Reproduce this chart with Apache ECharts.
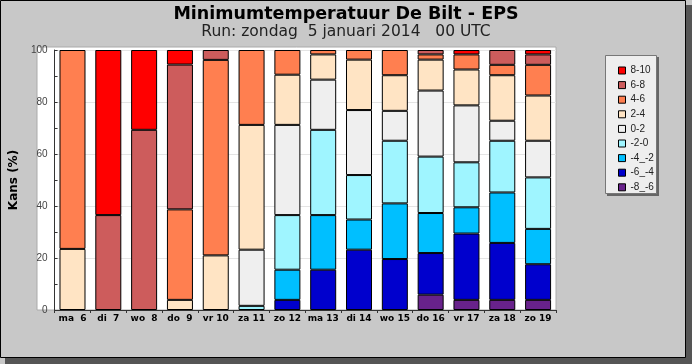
<!DOCTYPE html>
<html>
<head>
<meta charset="utf-8">
<script src="https://cdn.jsdelivr.net/npm/echarts@6/dist/echarts.min.js"></script>
<style>html,body{margin:0;padding:0;background:#c8c8c8;}#c{width:692px;height:364px;}</style>
</head>
<body>
<div id="c"></div>
<script>
var categories = ['ma  6','di  7','wo  8','do  9','vr 10','za 11','zo 12','ma 13','di 14','wo 15','do 16','vr 17','za 18','zo 19'];
var yTicks = [0, 20, 40, 60, 80, 100];
var seriesNames = ['-8_-6', '-6_-4', '-4_-2', '-2-0', '0-2', '2-4', '4-6', '6-8', '8-10'];
var seriesColors = ['#68228b', '#0000cd', '#00bfff', '#9ff5ff', '#efefef', '#ffe4c4', '#ff7f50', '#cd5c5c', '#ff0000'];
var m8_m6 = [0, 0, 0, 0, 0, 0, 0, 0, 0, 0, 5.9, 3.9, 3.9, 3.9];
var m6_m4 = [0, 0, 0, 0, 0, 0, 3.9, 15.5, 23.2, 19.6, 16.0, 25.5, 21.9, 13.7];
var m4_m2 = [0, 0, 0, 0, 0, 0, 11.6, 21.0, 11.6, 21.4, 15.4, 10.1, 19.4, 13.6];
var m2_0  = [0, 0, 0, 0, 0, 1.6, 21.0, 32.8, 17.1, 24.1, 21.7, 17.3, 19.9, 19.8];
var p0_2  = [0, 0, 0, 0, 0, 21.6, 34.7, 19.3, 25.0, 11.5, 25.4, 21.9, 7.7, 14.1];
var p2_4  = [23.5, 0, 0, 3.9, 21.0, 48.0, 19.3, 9.7, 19.4, 13.7, 11.9, 13.8, 17.5, 17.4];
var p4_6  = [76.5, 0, 0, 34.8, 75.2, 28.8, 9.5, 1.7, 3.7, 9.7, 2.0, 5.8, 4.0, 11.8];
var p6_8  = [0, 36.5, 69.3, 55.7, 3.8, 0, 0, 0, 0, 0, 1.7, 0, 5.7, 4.0];
var p8_10 = [0, 63.5, 30.7, 5.6, 0, 0, 0, 0, 0, 0, 0, 1.7, 0, 1.7];
var seriesValues = [m8_m6, m6_m4, m4_m2, m2_0, p0_2, p2_4, p4_6, p6_8, p8_10];

var chart = echarts.init(document.getElementById('c'), null, {renderer: 'canvas'});
var series = seriesNames.map(function (n, i) {
  return {
    name: n, type: 'bar', stack: 'all', barWidth: 26,
    itemStyle: {color: seriesColors[i], borderColor: '#000', borderWidth: 1},
    emphasis: {disabled: true},
    data: seriesValues[i].map(function (v) { return v === 0 ? '-' : v; })
  };
});
var option = {
  animation: false,
  backgroundColor: '#c8c8c8',
  graphic: [
    {type: 'rect', z: -20, shape: {x: 5, y: 5, width: 687, height: 359}, style: {fill: '#555'}},
    {type: 'rect', z: -19, shape: {x: 0.5, y: 0.5, width: 685, height: 357}, style: {fill: '#c8c8c8', stroke: '#000', lineWidth: 1}},
    {type: 'rect', z: -18, shape: {x: 37, y: 47, width: 519, height: 263}, style: {fill: '#fff', stroke: '#aaa', lineWidth: 1}},
    {type: 'rect', z: -18, shape: {x: 607, y: 57, width: 52, height: 139}, style: {fill: '#666'}},
    {type: 'rect', z: -17, shape: {x: 605.5, y: 55.5, width: 51, height: 138}, style: {fill: '#eeeeee', stroke: '#777', lineWidth: 1}}
  ],
  title: [
    {text: 'Minimumtemperatuur De Bilt - EPS', left: 'center', top: 0,
     textStyle: {fontFamily: 'DejaVu Sans', fontWeight: 'bold', fontSize: 17.5, color: '#000'}},
    {text: 'Run: zondag  5 januari 2014   00 UTC', left: 'center', top: 19,
     textStyle: {fontFamily: 'DejaVu Sans', fontWeight: 'normal', fontSize: 15.5, color: '#222'}}
  ],
  legend: {
    orient: 'vertical', left: 613, top: 60.5,
    itemWidth: 7, itemHeight: 7, itemGap: 4.6, icon: 'rect',
    itemStyle: {borderColor: '#000', borderWidth: 1},
    data: seriesNames.slice().reverse(),
    textStyle: {fontFamily: 'Liberation Sans', fontSize: 10, lineHeight: 10, color: '#222', padding: [0, 0, 0, 0]},
    selectedMode: false
  },
  grid: {left: 37, right: 136, top: 50, bottom: 54, containLabel: false},
  xAxis: {
    type: 'category', data: categories, boundaryGap: true,
    axisLine: {lineStyle: {color: '#333', width: 1}},
    axisTick: {show: true, length: 3, lineStyle: {color: '#333'}},
    axisLabel: {interval: 0, margin: 4, fontFamily: 'DejaVu Sans', fontWeight: 'bold', fontSize: 9, color: '#000'}
  },
  yAxis: {
    type: 'value', min: yTicks[0], max: yTicks[yTicks.length - 1], interval: 20,
    name: 'Kans (%)', nameLocation: 'middle', nameRotate: 90, nameGap: 29,
    nameTextStyle: {fontFamily: 'DejaVu Sans', fontWeight: 'bold', fontSize: 12, color: '#000'},
    axisLine: {show: true, lineStyle: {color: '#333', width: 1}},
    axisTick: {show: true, inside: true, length: 3, lineStyle: {color: '#333'}},
    minorTick: {show: true, splitNumber: 2, length: 3, lineStyle: {color: '#333'}},
    splitLine: {show: true, lineStyle: {color: '#e4e4e4', width: 1}},
    axisLabel: {margin: 7, fontFamily: 'Liberation Sans', fontSize: 10, color: '#444'}
  },
  series: series
};
chart.setOption(option);
</script>
</body>
</html>
